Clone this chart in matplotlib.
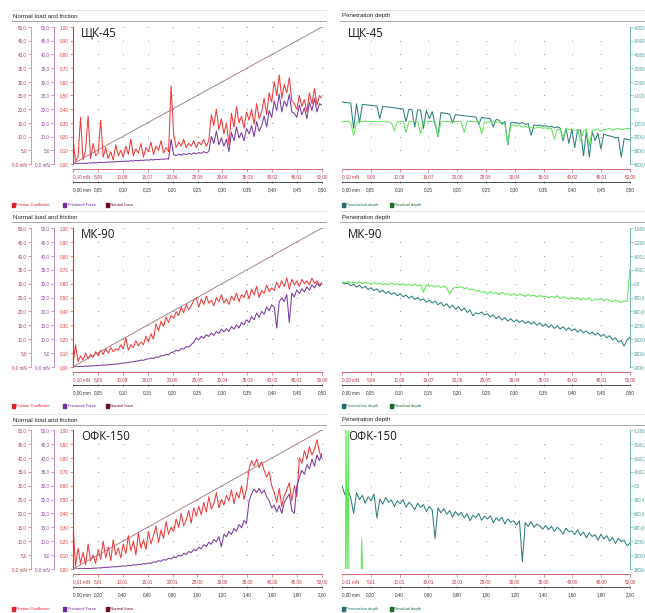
import numpy as np
import matplotlib.pyplot as plt
from matplotlib.lines import Line2D
from matplotlib.patches import Rectangle

W, H = 645, 613
SMALL = ['Liberation Sans', 'DejaVu Sans']
BIG = ['Open Sans', 'DejaVu Sans']
plt.rcParams['font.family'] = SMALL

# ---------------- x-axis labels ----------------
load_val_a = [0.10, 5.09, 10.08, 15.07, 20.06, 25.05, 30.04, 35.03, 40.02, 45.01, 50.00]
load_val_b = [0.01, 5.01, 10.01, 15.01, 20.01, 25.00, 30.00, 35.00, 40.00, 45.00, 50.00]
mm_val_a = [0.00, 0.05, 0.10, 0.15, 0.20, 0.25, 0.30, 0.35, 0.40, 0.45, 0.50]
mm_val_b = [0.00, 0.20, 0.40, 0.60, 0.80, 1.00, 1.20, 1.40, 1.60, 1.80, 2.00]

force_ticks = [0, 5, 10, 15, 20, 25, 30, 35, 40, 45, 50]
coef_ticks = [0.0, 0.1, 0.2, 0.3, 0.4, 0.5, 0.6, 0.7, 0.8, 0.9, 1.0]

depth_ticks_1 = [-6000, -5000, -4000, -3000, -2000, -1000, 0, 1000, 2000, 3000, 4000]
depth_ticks_2 = [-1600, -1200, -800, -400, 0, 400, 800, 1200, 1600, 2000, 2400]
depth_ticks_3 = [-1200, -900, -600, -300, 0, 300, 600, 900, 1200, 1500, 1800]

# ---------------- ЩК-45 ----------------
coef_1 = [0.18, 0.02, 0.05, 0.34, 0.03, 0.10, 0.35, 0.04, 0.15, 0.06,
          0.08, 0.32, 0.05, 0.12, 0.04, 0.09, 0.03, 0.14, 0.06, 0.10,
          0.05, 0.13, 0.07, 0.18, 0.06, 0.11, 0.08, 0.15, 0.05, 0.12,
          0.09, 0.16, 0.07, 0.13, 0.10, 0.17, 0.08, 0.12, 0.09, 0.57,
          0.22, 0.12, 0.16, 0.13, 0.18, 0.12, 0.15, 0.13, 0.17, 0.12,
          0.16, 0.14, 0.18, 0.13, 0.17, 0.36, 0.28, 0.40, 0.25, 0.33,
          0.22, 0.30, 0.14, 0.37, 0.27, 0.42, 0.30, 0.35, 0.26, 0.38,
          0.32, 0.40, 0.29, 0.44, 0.33, 0.38, 0.48, 0.36, 0.52, 0.45,
          0.60, 0.50, 0.65, 0.48, 0.58, 0.52, 0.63, 0.46, 0.44, 0.40,
          0.50, 0.42, 0.47, 0.38, 0.52, 0.44, 0.55, 0.43, 0.50, 0.48]
ff_1 = [0.0, 0.1, 0.2, 0.1, 0.3, 0.2, 0.4, 0.3, 0.5, 0.4,
        0.5, 0.6, 0.5, 0.7, 0.6, 0.8, 0.7, 0.9, 0.8, 1.0,
        0.9, 1.1, 1.0, 1.2, 1.1, 1.3, 1.2, 1.4, 1.3, 1.5,
        1.4, 1.6, 1.5, 1.7, 1.6, 1.8, 1.7, 1.9, 1.8, 9.0,
        3.5, 3.0, 3.6, 3.2, 3.8, 3.4, 3.9, 3.5, 4.1, 3.7,
        4.2, 3.9, 4.5, 4.0, 4.6, 10.0, 7.5, 12.0, 7.0, 9.5,
        6.5, 9.0, 4.5, 11.5, 8.5, 13.5, 9.5, 11.5, 8.5, 13.0,
        11.0, 14.0, 10.0, 15.5, 12.0, 14.0, 17.5, 13.5, 19.5, 17.0,
        23.0, 19.5, 25.5, 19.0, 23.0, 21.0, 25.5, 19.0, 18.5, 17.0,
        21.5, 18.0, 20.5, 16.5, 22.5, 19.5, 24.0, 19.0, 22.0, 21.5]
nf_1 = [0.10, 50.00]
pen_1 = [-550, -500, -470, -440, 1400, -400, 1000, -350, -330, -300,
         -280, -250, -230, 700, -200, -180, -160, -130, -110, -60,
         -40, -20, 900, 0, 20, 1300, 40, 60, 1400, 80,
         700, 180, 1100, 2000, 250, 280, 320, 350, 1000, 400,
         430, 460, 480, 500, 530, 550, 580, 1100, 600, 640,
         660, 700, 1300, 750, 800, 1100, 900, 2600, 1000, 950,
         1000, 1050, 980, 1100, 1050, 1900, 1150, 1200, 1150, 1250,
         1200, 1300, 1250, 1350, 1300, 1380, 2300, 1400, 2500, 1450,
         2800, 1500, 1550, 3400, 1600, 3500, 1650, 2300, 1750, 2900,
         1800, 1900, 1950, 2000, 2100, 2050, 3500, 2150, 2200, 2250]
res_1 = [900, 920, 880, 1000, 1900, 950, 900, 920, 880, 900,
         910, 890, 920, 900, 880, 930, 900, 1000, 1600, 920,
         900, 880, 1700, 920, 900, 910, 880, 1800, 900, 920,
         890, 910, 900, 2000, 920, 890, 910, 900, 1000, 880,
         900, 920, 1700, 900, 890, 910, 920, 900, 1800, 930,
         910, 950, 900, 920, 1000, 950, 1100, 2500, 1200, 1150,
         1250, 1200, 1300, 1250, 1350, 1300, 1400, 1350, 1300, 1400,
         1350, 1450, 1400, 2200, 1500, 1450, 2100, 1400, 1500, 1450,
         1550, 1500, 2300, 1600, 1450, 2700, 1550, 1500, 1450, 1600,
         1500, 1450, 1400, 1550, 1450, 1400, 1500, 1450, 1400, 1420]

# ---------------- МК-90 ----------------
coef_2 = [0.02, 0.16, 0.04, 0.08, 0.05, 0.10, 0.06, 0.09, 0.07, 0.11,
          0.08, 0.12, 0.09, 0.13, 0.10, 0.14, 0.11, 0.13, 0.12, 0.16,
          0.13, 0.21, 0.12, 0.16, 0.14, 0.19, 0.15, 0.18, 0.16, 0.22,
          0.18, 0.24, 0.20, 0.31, 0.26, 0.33, 0.29, 0.36, 0.32, 0.37,
          0.35, 0.40, 0.37, 0.43, 0.39, 0.45, 0.41, 0.44, 0.48, 0.50,
          0.43, 0.49, 0.45, 0.51, 0.46, 0.48, 0.44, 0.50, 0.47, 0.52,
          0.46, 0.49, 0.45, 0.51, 0.48, 0.53, 0.47, 0.52, 0.50, 0.55,
          0.49, 0.56, 0.52, 0.58, 0.50, 0.55, 0.53, 0.59, 0.54, 0.57,
          0.55, 0.61, 0.57, 0.62, 0.58, 0.64, 0.56, 0.63, 0.59, 0.62,
          0.58, 0.63, 0.60, 0.62, 0.59, 0.64, 0.60, 0.62, 0.59, 0.61]
ff_2 = [0.0, 0.1, 0.1, 0.2, 0.2, 0.3, 0.3, 0.4, 0.4, 0.5,
        0.5, 0.6, 0.7, 0.7, 0.8, 0.9, 1.0, 1.0, 1.1, 1.3,
        1.4, 1.5, 1.6, 1.8, 1.9, 2.1, 2.2, 2.5, 2.4, 2.8,
        2.9, 3.3, 3.1, 3.6, 3.5, 4.1, 4.0, 4.6, 4.4, 5.2,
        5.4, 6.0, 5.8, 6.6, 6.4, 7.3, 7.2, 8.1, 8.8, 10.5,
        9.8, 11.0, 10.4, 11.6, 11.0, 12.2, 11.4, 12.8, 12.0, 13.6,
        12.6, 13.8, 12.8, 14.6, 13.6, 15.2, 14.0, 16.0, 15.2, 17.0,
        16.0, 18.2, 17.0, 19.4, 17.8, 20.0, 19.0, 21.6, 20.2, 22.4,
        21.5, 14.0, 23.5, 24.8, 23.6, 26.0, 16.0, 26.6, 25.2, 27.8,
        26.4, 28.2, 27.0, 28.8, 27.6, 29.6, 28.4, 30.2, 29.0, 30.0]
nf_2 = [0.10, 50.00]
pen_2 = [-30, 10, -10, 60, 20, 100, 50, 130, 80, 170,
         120, 200, 150, 250, 190, 280, 230, 310, 260, 350,
         290, 380, 330, 420, 360, 460, 400, 480, 440, 530,
         470, 560, 500, 610, 540, 650, 580, 700, 620, 740,
         660, 780, 700, 830, 760, 930, 840, 870, 820, 900,
         870, 960, 900, 1010, 940, 1050, 980, 1080, 1010, 1100,
         1040, 1120, 1060, 1150, 1080, 1170, 1100, 1200, 1130, 1230,
         1160, 1260, 1190, 1290, 1210, 1310, 1240, 1340, 1270, 1360,
         1300, 1400, 1330, 1420, 1360, 1450, 1390, 1480, 1420, 1520,
         1460, 1560, 1500, 1620, 1560, 1680, 1640, 1800, 1620, 1540]
res_2 = [-50, -30, -60, -20, -40, -10, -50, 0, -30, -20,
         10, -30, 20, -10, 30, 0, 40, -20, 30, 10,
         40, 0, 50, 20, 60, 10, 70, 30, 250, 40,
         80, 50, 100, 60, 110, 80, 130, 300, 150, 110,
         110, 90, 140, 120, 180, 160, 220, 200, 250, 230,
         300, 230, 280, 260, 320, 250, 310, 290, 340, 280,
         350, 300, 330, 370, 310, 360, 330, 390, 340, 380,
         360, 420, 370, 400, 350, 430, 380, 410, 440, 390,
         450, 400, 470, 420, 460, 410, 490, 440, 470, 430,
         500, 450, 480, 530, 470, 510, 540, 490, 520, -430]

# ---------------- ОФК-150 ----------------
coef_3 = [0.33, 0.02, 0.15, 0.04, 0.12, 0.03, 0.18, 0.06, 0.10, 0.04,
          0.14, 0.07, 0.20, 0.08, 0.16, 0.06, 0.21, 0.10, 0.15, 0.08,
          0.18, 0.11, 0.24, 0.13, 0.20, 0.10, 0.26, 0.15, 0.21, 0.14,
          0.27, 0.18, 0.24, 0.31, 0.19, 0.28, 0.22, 0.34, 0.25, 0.30,
          0.27, 0.36, 0.30, 0.40, 0.31, 0.35, 0.42, 0.33, 0.44, 0.38,
          0.45, 0.39, 0.48, 0.41, 0.52, 0.43, 0.47, 0.55, 0.44, 0.50,
          0.46, 0.53, 0.49, 0.57, 0.47, 0.55, 0.51, 0.60, 0.50, 0.58,
          0.72, 0.78, 0.74, 0.79, 0.73, 0.77, 0.71, 0.66, 0.70, 0.60,
          0.55, 0.48, 0.58, 0.45, 0.53, 0.57, 0.62, 0.49, 0.60, 0.52,
          0.80, 0.76, 0.85, 0.79, 0.88, 0.82, 0.86, 0.93, 0.84, 0.80]
ff_3 = [0.0, 0.0, 0.1, 0.1, 0.1, 0.2, 0.2, 0.2, 0.3, 0.3,
        0.4, 0.4, 0.5, 0.6, 0.6, 0.7, 0.8, 0.8, 0.9, 1.0,
        1.1, 1.0, 1.3, 1.2, 1.5, 1.4, 1.7, 1.6, 1.9, 1.8,
        2.2, 2.0, 2.6, 2.4, 3.0, 2.8, 3.4, 3.2, 3.9, 3.6,
        4.4, 4.1, 5.0, 4.6, 5.6, 5.2, 6.3, 5.9, 7.0, 6.6,
        7.8, 7.3, 8.7, 8.1, 9.6, 8.9, 10.6, 9.8, 11.6, 8.0,
        12.5, 11.6, 13.5, 12.4, 14.6, 13.6, 16.0, 14.8, 17.5, 16.4,
        24.5, 27.0, 28.8, 27.5, 29.0, 27.2, 28.4, 26.0, 24.5, 22.0,
        23.0, 20.5, 22.8, 20.0, 24.0, 25.5, 27.0, 21.0, 20.0, 30.0,
        33.0, 35.5, 34.0, 37.5, 36.0, 39.5, 37.0, 41.0, 39.0, 41.5]
nf_3 = [0.01, 50.00]
pen_3 = [0, 200, 80, 260, 600, 150, 300, 210, 380, 240,
         330, 180, 700, 290, 400, 260, 360, 310, 450, 330,
         390, 300, 470, 360, 420, 520, 380, 470, 410, 560,
         450, 520, 1140, 480, 590, 500, 620, 540, 680, 560,
         640, 580, 700, 610, 760, 640, 690, 600, 750, 660,
         720, 650, 800, 700, 760, 680, 830, 720, 790, 760,
         850, 760, 1640, 800, 880, 780, 900, 830, 870, 940,
         860, 950, 880, 990, 900, 960, 1050, 920, 1000, 980,
         1060, 950, 1080, 1000, 1130, 1020, 1100, 1060, 1180, 1050,
         1150, 1080, 1200, 1120, 1250, 1140, 1210, 1180, 1300, 1240]
res_x_3 = [0.6, 0.7, 0.9, 1.1, 1.2, 3.3, 3.45, 3.6]
res_3 = [2000, -1500, 2000, -1500, 2000, 2000, 1140, 2000]

RED = '#f23a3a'
PURPLE = '#7a3a9e'
NORMAL = '#a07078'
TEAL = '#2f7f7c'
GREEN = '#62e65a'
LW = 0.75

fig = plt.figure(figsize=(W / 100, H / 100), dpi=100)


def rect(x0, y0, x1, y1):
    return [x0 / W, 1 - y1 / H, (x1 - x0) / W, (y1 - y0) / H]


def ftext(x, y, s, **kw):
    fig.text(x / W, 1 - y / H, s, **kw)


def hline(x0, x1, y, color, lw):
    fig.add_artist(Line2D([x0 / W, x1 / W], [1 - y / H] * 2, color=color, lw=lw))


def comma(v, nd):
    return f'{v:.{nd}f}'.replace('.', ',')


def bottom_rows(ax, load_val, mm_val):
    ax.set_xlim(load_val[0], load_val[-1])
    ax.spines['bottom'].set_position(('outward', 3.6))
    ax.spines['bottom'].set_color('#d2505a')
    ax.spines['bottom'].set_linewidth(0.6)
    ax.set_xticks(load_val)
    ax.set_xticklabels([comma(load_val[0], 2) + ' mN'] + [comma(v, 2) for v in load_val[1:]])
    ax.tick_params(axis='x', colors='#c23a48', labelsize=3.3, length=2, width=0.4, pad=1.5)
    ax.get_xticklabels()[0].set_ha('left')
    axm = ax.twiny()
    axm.set_xlim(mm_val[0], mm_val[-1])
    axm.xaxis.tick_bottom()
    for s in ['top', 'left', 'right']:
        axm.spines[s].set_visible(False)
    axm.spines['bottom'].set_position(('outward', 13))
    axm.spines['bottom'].set_linewidth(0.6)
    axm.spines['bottom'].set_color('#333333')
    axm.set_xticks(mm_val)
    axm.set_xticklabels([comma(mm_val[0], 2) + ' mm'] + [comma(v, 2) for v in mm_val[1:]])
    axm.tick_params(axis='x', colors='#333333', labelsize=3.3, length=2, width=0.4,
                    pad=2.5, direction='inout')
    axm.get_xticklabels()[0].set_ha('left')


def friction_panel(box, load_val, mm_val, coef, ff, nf, name):
    ax = fig.add_axes(rect(*box))
    loads = np.linspace(load_val[0], load_val[-1], len(coef))
    ax.set_ylim(0, 1)
    gx, gy = np.meshgrid(load_val[1:], coef_ticks[1:])
    ax.scatter(gx.ravel(), gy.ravel(), s=0.6, c='#8a8a8a', lw=0)
    ax.plot(loads, coef, color=RED, lw=LW)
    ax.set_yticks(coef_ticks)
    ax.set_yticklabels([comma(v, 2) for v in coef_ticks])
    ax.tick_params(axis='y', colors='#e03a3a', labelsize=3.3, length=2, width=0.4, pad=1)
    ax.spines['left'].set_color('#e82c2c')
    ax.spines['left'].set_linewidth(0.8)
    ax.spines['top'].set_visible(False)
    ax.spines['right'].set_visible(False)
    bottom_rows(ax, load_val, mm_val)

    # frictional force axis, then normal force axis, both further left
    for off, col, lcol, data in [(13.7, '#b878b8', '#8a4a9a', ff),
                                 (30.2, '#d88898', '#b04050', None)]:
        axt = ax.twinx()
        axt.set_ylim(0, 50)
        axt.yaxis.tick_left()
        for s in ['top', 'bottom', 'right']:
            axt.spines[s].set_visible(False)
        axt.spines['left'].set_visible(True)
        axt.spines['left'].set_position(('outward', off))
        axt.spines['left'].set_color(col)
        axt.spines['left'].set_linewidth(0.6)
        axt.set_yticks(force_ticks)
        axt.set_yticklabels(['0,0 mN'] + [comma(v, 1) for v in force_ticks[1:]])
        axt.tick_params(axis='y', colors=lcol, labelsize=3.3, length=2, width=0.4, pad=1)
        if data is not None:
            axt.plot(loads, data, color=PURPLE, lw=LW)
        else:
            axt.plot([load_val[0], load_val[-1]], nf, color=NORMAL, lw=0.6)

    ftext(box[0] + 8, box[1] + 6, name, fontsize=8.3, family=BIG, color='#1a1a1a', va='center')


def depth_panel(box, load_val, mm_val, ticks, pen, res_x, res, name):
    ax = fig.add_axes(rect(*box))
    loads = np.linspace(load_val[0], load_val[-1], len(pen))
    ax.set_ylim(ticks[-1], ticks[0])
    gx, gy = np.meshgrid(load_val[1:-1], ticks[1:-1])
    ax.scatter(gx.ravel(), gy.ravel(), s=0.6, c='#8a8a8a', lw=0)
    ax.plot(loads, pen, color=TEAL, lw=LW)
    if res_x is None:
        res_x = loads
    ax.plot(res_x, res, color=GREEN, lw=LW)
    ax.yaxis.tick_right()
    ax.set_yticks(ticks)
    ax.set_yticklabels([comma(v, 1) for v in ticks])
    ax.tick_params(axis='y', colors='#4a9e9a', labelsize=3.3, length=2, width=0.4, pad=1)
    ax.spines['right'].set_color('#5fb0aa')
    ax.spines['right'].set_linewidth(0.6)
    for s in ['top', 'left']:
        ax.spines[s].set_visible(False)
    bottom_rows(ax, load_val, mm_val)
    ftext(box[0] + 6, box[1] + 6, name, fontsize=8.3, family=BIG, color='#1a1a1a', va='center')


rows = [
    (27, 164, 16, 205, load_val_a, mm_val_a, coef_1, ff_1, nf_1, depth_ticks_1, pen_1, None, res_1, 'ЩК-45'),
    (228, 367, 217, 406, load_val_a, mm_val_a, coef_2, ff_2, nf_2, depth_ticks_2, pen_2, None, res_2, 'МК-90'),
    (430, 569, 420, 609, load_val_b, mm_val_b, coef_3, ff_3, nf_3, depth_ticks_3, pen_3, res_x_3, res_3, 'ОФК-150'),
]

for top, bot, ty, ly, lv, mv, cf, ff, nf, dt, pen, rx, rs, name in rows:
    friction_panel((73, top, 322, bot), lv, mv, cf, ff, nf, name)
    depth_panel((342, top, 630, bot), lv, mv, dt, pen, rx, rs, name)

    ftext(13, ty, 'Normal load and friction', fontsize=4.4, color='#202020', va='center')
    ftext(342, ty, 'Penetration depth', fontsize=4.4, color='#202020', va='center')
    hline(12, 326, ty - 6, '#d8d8d8', 0.5)
    hline(12, 326, ty + 4.5, '#9a9a9a', 0.6)
    hline(340, 645, ty - 6, '#d8d8d8', 0.5)
    hline(340, 645, ty + 4.5, '#9a9a9a', 0.6)

    for x, c, lab in [(12, '#e3202a', 'Friction Coefficient'), (63, '#6a2d9c', 'Frictional Force'),
                      (106, '#6b1020', 'Normal force'), (342, '#1f6f6a', 'Penetration depth'),
                      (390, '#1b6b2b', 'Residual depth')]:
        fig.add_artist(Rectangle((x / W, 1 - (ly + 1.6) / H), 3.2 / W, 3.2 / H,
                                 color=c, transform=fig.transFigure))
        ftext(x + 4.5, ly, lab, fontsize=3.0, color=c, va='center')

fig.savefig('out.png', dpi=100)
